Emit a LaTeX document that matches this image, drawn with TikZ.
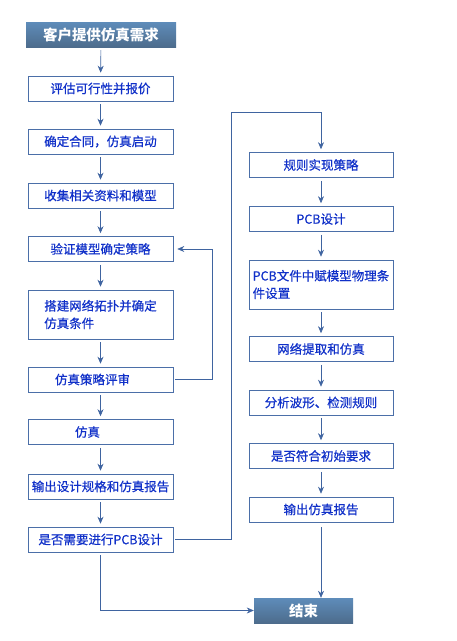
\documentclass[tikz,border=0pt]{standalone}
\usepackage{fontspec}
\setmainfont{Noto Sans CJK SC}
\newfontfamily\boxfont[FakeBold=0.6]{Noto Sans CJK SC}
\usepackage{xcolor}
\usetikzlibrary{arrows.meta}
\definecolor{boxline}{HTML}{4B6FA8}
\definecolor{flowline}{HTML}{3F64A0}
\definecolor{boxtext}{HTML}{1030C8}
\tikzset{
  stepbox/.style={draw=boxline,semithick,minimum width=145pt,minimum height=25pt,inner sep=2pt,
    text=boxtext,font=\boxfont\fontsize{12.5}{17.5}\selectfont},
  headbox/.style={draw=none,top color=HeadTop,bottom color=HeadBot,minimum height=25pt,inner sep=0pt,
    text=white,font=\bfseries\fontsize{14.5}{17}\selectfont},
  flow/.style={draw=flowline,semithick,-{Stealth[length=7pt,width=6pt]}},
}
\definecolor{HeadTop}{HTML}{5E8CBA}
\definecolor{HeadBot}{HTML}{4D6C8C}

\begin{document}
\begin{tikzpicture}[x=1pt,y=-1pt]
    \useasboundingbox (0,0) rectangle (457,641);
    % left column
    \node[headbox,minimum width=150pt] (need) at (101,34.5) {客户提供仿真需求};
    \node[stepbox] (eval) at (100.5,88.5) {评估可行性并报价};
    \node[stepbox] (contract) at (100.5,141.5) {确定合同，仿真启动};
    \node[stepbox] (collect) at (100.5,195.5) {收集相关资料和模型};
    \node[stepbox] (verify) at (100.5,249) {验证模型确定策略};
    \node[stepbox,minimum height=49pt,align=left] (topo) at (100.5,314.5) {搭建网络拓扑并确定\\仿真条件};
    \node[stepbox] (review) at (100.5,379.5) {\hspace*{-16pt}仿真策略评审};
    \node[stepbox] (sim) at (100.5,432) {\hspace*{-26pt}仿真};
    \node[stepbox] (report) at (100.5,486.5) {输出设计规格和仿真报告};
    \node[stepbox] (ask) at (100.5,539.5) {是否需要进行PCB设计};
    % right column
    \node[stepbox,minimum width=144pt] (rule) at (321,165) {规则实现策略};
    \node[stepbox,minimum width=144pt] (pcb) at (321,219) {PCB设计};
    \node[stepbox,minimum width=144pt,minimum height=49pt,align=left] (phys) at (321,284.5) {PCB文件中赋模型物理条\\件设置};
    \node[stepbox,minimum width=144pt] (extract) at (321,349) {网络提取和仿真};
    \node[stepbox,minimum width=144pt] (wave) at (321,402.5) {分析波形、检测规则};
    \node[stepbox,minimum width=144pt] (meet) at (321,456) {是否符合初始要求};
    \node[stepbox,minimum width=144pt] (out) at (321,509.5) {输出仿真报告};
    \node[headbox,minimum width=99pt] (finish) at (303.5,610.5) {结束};

    \foreach \a/\b in {need/eval,eval/contract,contract/collect,collect/verify,verify/topo,
      topo/review,review/sim,sim/report,report/ask,rule/pcb,pcb/phys,phys/extract,
      extract/wave,wave/meet,meet/out}
      \draw[flow,shorten <=3pt,shorten >=3pt] (\a) -- (\b);
    \draw[flow,shorten <=2pt,shorten >=4pt] (review.east) -- ++(39,0) |- (verify.east);%回到验证
    \coordinate (bend) at (231,112);
    \draw[flow,shorten <=2pt,shorten >=3pt] (ask.east) -| (bend) -| (rule.north);%进行PCB设计
    \draw[flow,shorten <=3pt] (ask.south) |- (finish.west);
    \draw[flow,shorten <=5pt] (out.south) -- (out.south |- finish.north);
\end{tikzpicture}
\end{document}
